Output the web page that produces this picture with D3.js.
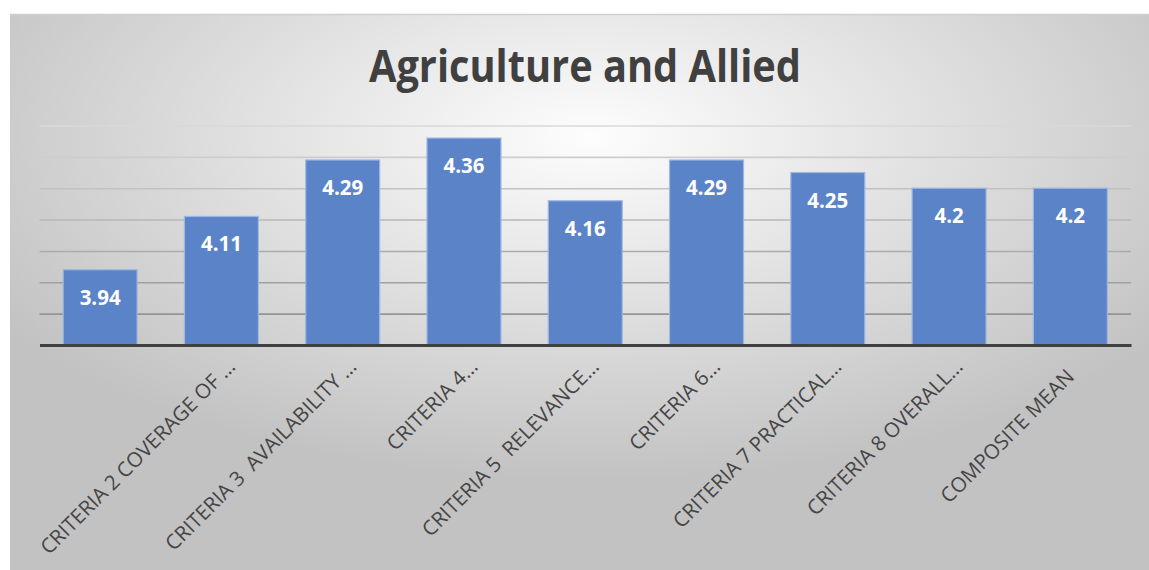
<!DOCTYPE html>
<html><head><meta charset="utf-8">
<script src="https://cdn.jsdelivr.net/npm/d3@7"></script>
<style>html,body{margin:0;padding:0;background:#fff;}svg{display:block;}</style>
</head><body>
<script>
const title = "Agriculture and Allied";
const categories = ["", "CRITERIA 2 COVERAGE OF …", "CRITERIA 3  AVAILABILITY …", "CRITERIA 4…", "CRITERIA 5  RELEVANCE…", "CRITERIA 6…", "CRITERIA 7 PRACTICAL…", "CRITERIA 8 OVERALL…", "COMPOSITE MEAN"];
const values = [3.94, 4.11, 4.29, 4.36, 4.16, 4.29, 4.25, 4.2, 4.2];
const yTicks = [3.7, 3.8, 3.9, 4.0, 4.1, 4.2, 4.3, 4.4];
const yDomain = [3.7, 4.4];

const W = 1149, H = 570;
const svg = d3.select("body").append("svg").attr("width", W).attr("height", H);
const defs = svg.append("defs");

const bg = defs.append("radialGradient").attr("id", "bg")
  .attr("cx", "51%").attr("cy", "22%").attr("r", "62%");
bg.append("stop").attr("offset", "0%").attr("stop-color", "#fdfdfd");
bg.append("stop").attr("offset", "100%").attr("stop-color", "#c2c2c2");

const x = d3.scaleBand().domain(d3.range(values.length)).range([39.5, 1131]).paddingInner(0.39).paddingOuter(0.195);
const y = d3.scaleLinear().domain(yDomain).range([345, 125.5]);
const gridColor = d3.scaleLinear().domain(yDomain).range(["#8a8a8a", "#d8d8d8"]);

// chart area
svg.append("rect").attr("x", 10).attr("y", 14.5).attr("width", W - 10).attr("height", H - 14.5)
  .attr("fill", "url(#bg)");
svg.append("line").attr("x1", 10).attr("x2", W).attr("y1", 14.5).attr("y2", 14.5)
  .attr("stroke", "#cfcfcf").attr("stroke-width", 1.5);

// title
svg.append("text").attr("x", 585).attr("y", 82).attr("text-anchor", "middle")
  .attr("font-family", "'Open Sans', sans-serif").attr("font-weight", 700).attr("font-size", 44)
  .attr("fill", "#404040").text(title)
  .attr("textLength", 432).attr("lengthAdjust", "spacingAndGlyphs");

// gridlines
const grid = svg.append("g").attr("transform", `translate(${x.range()[0]},0)`)
  .call(d3.axisLeft(y).tickValues(yTicks.slice(1)).tickSize(-(x.range()[1] - x.range()[0])).tickFormat(""));
grid.select(".domain").remove();
grid.selectAll(".tick line").attr("stroke", d => gridColor(d)).attr("stroke-width", 1.6);

// bars
svg.append("g").selectAll("rect").data(values).join("rect")
  .attr("x", (d, i) => x(i)).attr("width", x.bandwidth())
  .attr("y", d => y(d)).attr("height", d => y(yDomain[0]) - y(d))
  .attr("fill", "#5b83c8").attr("stroke", "#9fb8e3").attr("stroke-width", 1.2);

// data labels
svg.append("g").selectAll("text").data(values).join("text")
  .attr("x", (d, i) => x(i) + x.bandwidth() / 2).attr("y", d => y(d) + 35)
  .attr("text-anchor", "middle").attr("font-family", "'Open Sans', sans-serif")
  .attr("font-weight", 700).attr("font-size", 20.5).attr("fill", "#ffffff")
  .text(d => String(d));

// x axis
const xa = svg.append("g").attr("transform", `translate(0,${y(yDomain[0])})`)
  .call(d3.axisBottom(x).tickSize(0).tickFormat(i => categories[i]));
xa.select(".domain").attr("stroke", "#404040").attr("stroke-width", 3.2);
xa.selectAll(".tick text")
  .attr("font-family", "'Open Sans', sans-serif").attr("font-size", 20.5).attr("fill", "#454545")
  .style("white-space", "pre")
  .attr("text-anchor", "end")
  .attr("y", 0).attr("dy", 0)
  .attr("dx", (i) => categories[i].endsWith("…") ? 0 : -14)
  .attr("transform", "translate(15,23) rotate(-45)");
</script>
</body></html>
